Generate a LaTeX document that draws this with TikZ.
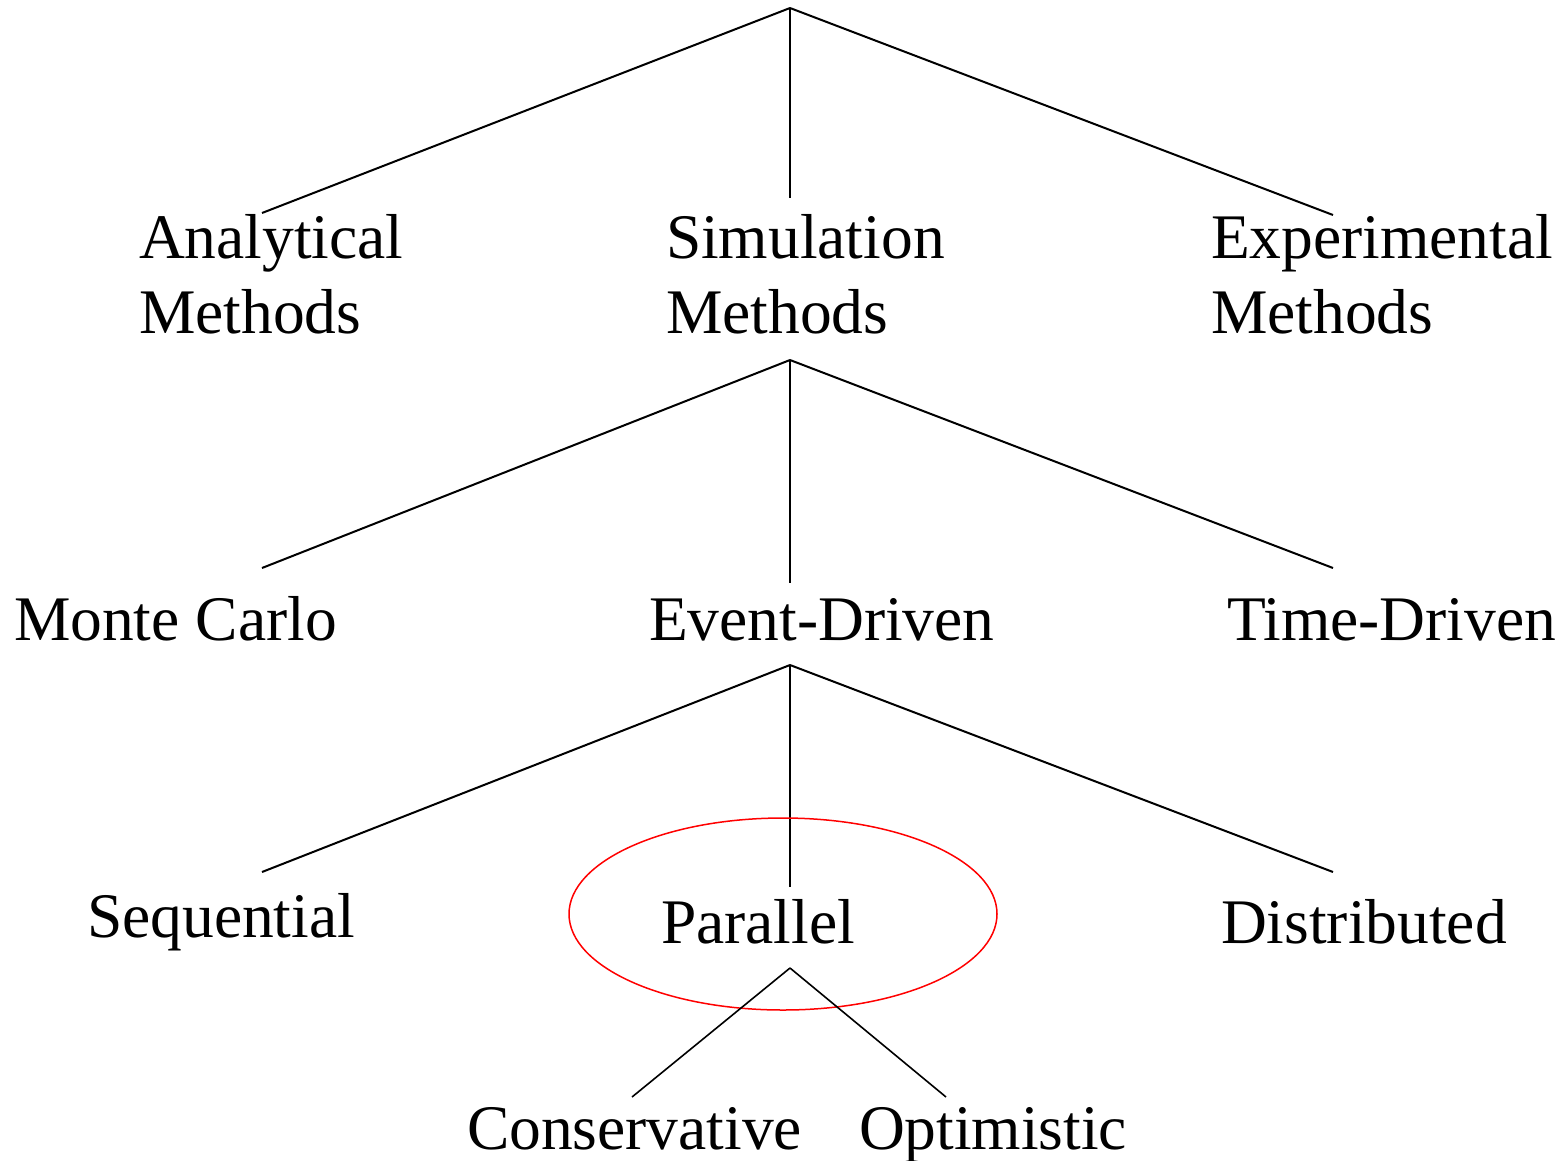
\documentclass[tikz,border=0pt]{standalone}
\usepackage{fontspec}
\setmainfont{Liberation Serif}
\begin{document}
\begin{tikzpicture}[x=1pt,y=-1pt,
  lbl/.style={anchor=base west,inner sep=0pt,outer sep=0pt,align=left,
    font=\fontsize{63.5}{75}\selectfont},
  branch/.style={draw=black,line width=2pt},
  focus/.style={draw=red,line width=1.5pt}]
\useasboundingbox (0,0) rectangle (1568,1160);

% level 0 -> level 1 (two-line labels: anchor is the last baseline)
\coordinate (root) at (790,8);
\coordinate (anaTop) at (262,213);
\coordinate (simTop) at (790,198);
\coordinate (expTop) at (1333,215);
\node[lbl] (ana) at (139,333) {Analytical\\Methods};
\node[lbl] (sim) at (666,333) {Simulation\\Methods};
\node[lbl] (exp) at (1211,333) {Experimental\\Methods};
\draw[branch] (root) -- (anaTop);
\draw[branch] (root) -- (simTop);
\draw[branch] (root) -- (expTop);

% simulation methods -> level 2
\coordinate (simRoot) at (790,360);
\coordinate (mcTop) at (262,568);
\coordinate (edTop) at (790,583);
\coordinate (tdTop) at (1333,568);
\node[lbl] (mc) at (14,640) {Monte Carlo};
\node[lbl] (ed) at (649,640) {Event-Driven};
\node[lbl] (td) at (1227,640) {Time-Driven};
\draw[branch] (simRoot) -- (mcTop);
\draw[branch] (simRoot) -- (edTop);
\draw[branch] (simRoot) -- (tdTop);

% event-driven -> level 3
\coordinate (edRoot) at (790,665);
\coordinate (seqTop) at (262,872);
\coordinate (parTop) at (790,887);
\coordinate (disTop) at (1333,872);
\node[lbl] (seq) at (87,937) {Sequential};
\node[lbl] (par) at (661,943) {Parallel};
\node[lbl] (dis) at (1221,943) {Distributed};
\draw[branch] (edRoot) -- (seqTop);
\draw[branch] (edRoot) -- (parTop);
\draw[branch] (edRoot) -- (disTop);

% highlight around the parallel branch
\draw[focus] (783,914) ellipse [x radius=214, y radius=96];

% parallel -> level 4
\coordinate (parRoot) at (790,968);
\coordinate (conTop) at (632,1097);
\coordinate (optTop) at (946,1097);
\node[lbl] (con) at (467,1149) {Conservative};
\node[lbl] (opt) at (859,1149) {Optimistic};
\draw[branch,line width=1.6pt] (parRoot) -- (conTop);
\draw[branch,line width=1.6pt] (parRoot) -- (optTop);
\end{tikzpicture}
\end{document}
